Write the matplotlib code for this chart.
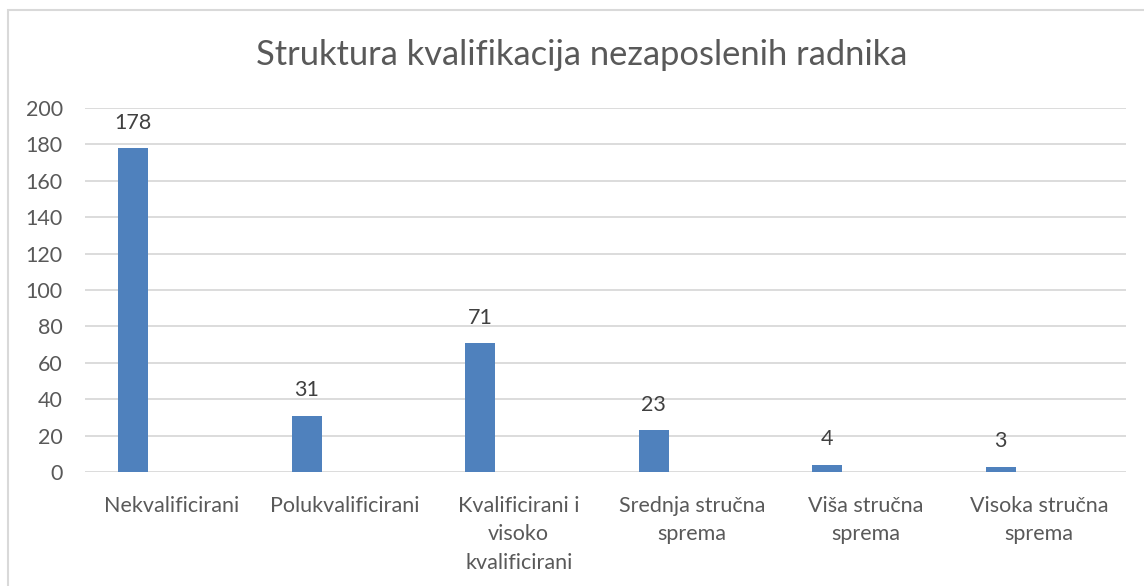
import matplotlib.pyplot as plt
from matplotlib.patches import Rectangle

categories = ['Nekvalificirani', 'Polukvalificirani', 'Kvalificirani i\nvisoko\nkvalificirani',
              'Srednja stručna\nsprema', 'Viša stručna\nsprema', 'Visoka stručna\nsprema']
values = [178, 31, 71, 23, 4, 3]
yticks = [0, 20, 40, 60, 80, 100, 120, 140, 160, 180, 200]

plt.rcParams['font.family'] = ['Lato', 'DejaVu Sans']
txt = '#595959'

fig = plt.figure(figsize=(11.44, 5.86), dpi=100)
fig.patches.append(Rectangle((8 / 1144, -0.1), 1.2, 1.1 - 9.5 / 586, transform=fig.transFigure,
                             fill=False, edgecolor='#d9d9d9', linewidth=1.5))
ax = fig.add_axes([85 / 1144, 1 - 472 / 586, 1041 / 1144, 364 / 586])

x = list(range(len(values)))
bx = [i - 0.223 for i in x]
ax.bar(bx, values, width=0.173, color='#4F81BD', zorder=3)
for xi, v in zip(bx, values):
    ax.annotate(str(v), (xi, v), xytext=(0, 11), textcoords='offset points',
                ha='center', va='bottom', fontsize=15.5, color='#404040')

ax.set_xlim(-0.5, 5.5)
ax.set_ylim(0, 200)
ax.set_yticks(yticks)
ax.set_xticks(x)
ax.set_xticklabels(categories, linespacing=1.55)
ax.tick_params(axis='both', length=0, labelsize=15.5, colors=txt)
ax.tick_params(axis='x', pad=17)
ax.tick_params(axis='y', pad=16)
ax.yaxis.grid(True, color='#d9d9d9', linewidth=1.3, zorder=0)
for s in ax.spines.values():
    s.set_visible(False)

fig.text(582 / 1144, 1 - 55 / 586, 'Struktura kvalifikacija nezaposlenih radnika', ha='center', va='center',
         fontsize=24.8, color=txt)

plt.savefig('out.png', dpi=100)
